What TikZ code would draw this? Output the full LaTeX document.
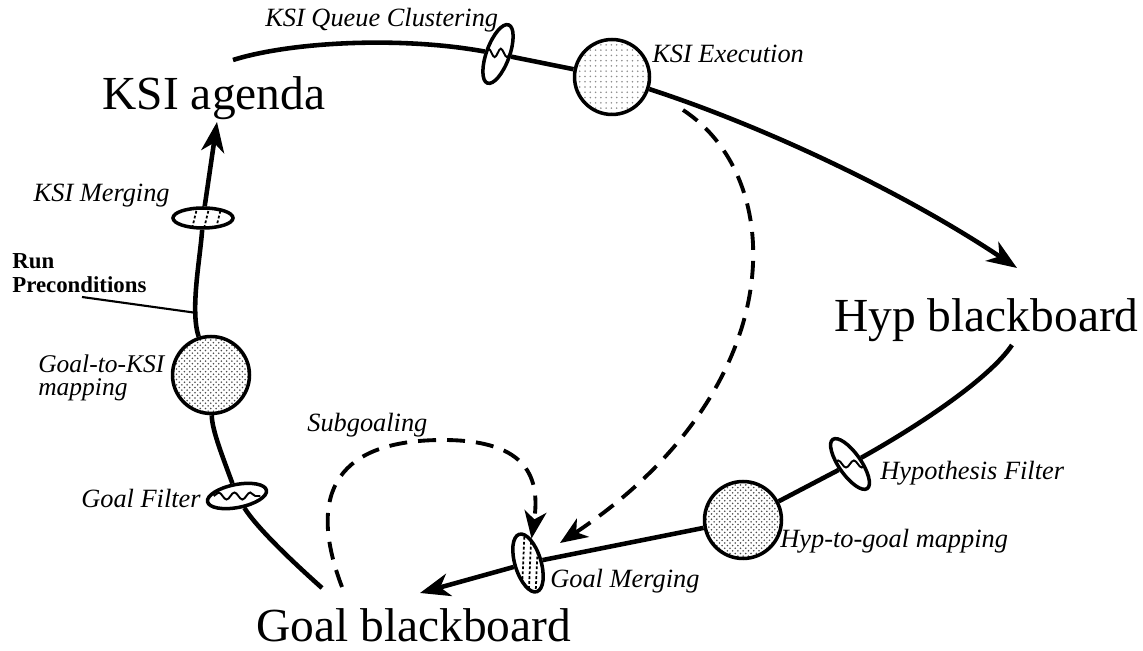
\documentclass[tikz,border=0pt]{standalone}
\usepackage{fontspec}
\setmainfont{Liberation Serif}
\usetikzlibrary{arrows.meta,shapes.geometric,decorations.pathmorphing,patterns,calc}

\tikzset{
  flow/.style={line width=2.6pt},
  flowarrow/.style={flow, -{Stealth[length=6mm,width=4.6mm,inset=1.8mm]}},
  dashflow/.style={line width=2.2pt, dash pattern=on 3.6mm off 2.2mm,
    -{Stealth[length=5.5mm,width=4.4mm,inset=1.6mm]}},
  bbtitle/.style={font=\fontsize{27}{30}\selectfont, inner sep=0pt},
  tag/.style={font=\fontsize{15}{15}\selectfont\itshape, inner sep=0pt},
  procdark/.style={circle, draw, line width=2pt, minimum size=1.54cm, inner sep=0pt,
    pattern=crosshatch dots, pattern color=black!70},
  proclight/.style={circle, draw, line width=2pt, minimum size=1.5cm, inner sep=0pt,
    pattern=dots, pattern color=black!45},
  valve/.style={ellipse, draw, fill=white, line width=2pt, inner sep=0pt,
    minimum width=1.2cm, minimum height=0.46cm},
  mergevalve/.style={valve, path picture={
    \foreach \t in {.32,.52,.72}
      \draw[line width=1pt, dash pattern=on 1.6pt off 1.2pt]
        ($(path picture bounding box.south west)!\t!(path picture bounding box.south east)$) --
        ($(path picture bounding box.north west)!\t+.08!(path picture bounding box.north east)$);
  }},
  filtervalve/.style={valve, path picture={
    \draw[line width=1.1pt, decorate, decoration={snake, amplitude=2pt, segment length=9pt}]
      ($(path picture bounding box.west)!.12!(path picture bounding box.east)$) --
      ($(path picture bounding box.west)!.88!(path picture bounding box.east)$);
  }},
}

\begin{document}
\begin{tikzpicture}[x=0.02cm, y=-0.02cm]
  \useasboundingbox (0,0) rectangle (1143,651);

  % blackboards and agenda
  \node[bbtitle, anchor=base] (agenda) at (214,110) {KSI agenda};
  \node[bbtitle, anchor=base west] (hypbb) at (834,332) {Hyp blackboard};
  \node[bbtitle, anchor=base west] (goalbb) at (256,642) {Goal blackboard};

  % processing steps on the loop
  \node[proclight] (exec) at (612,77) {};
  \node[procdark] (g2k) at (211,375) {};
  \node[procdark] (h2g) at (743,520) {};
  \node[valve, rotate=70, minimum width=1.24cm, path picture={
    \draw[line width=1.1pt, decorate, decoration={snake, amplitude=2.4pt, segment length=7pt}]
      ($(path picture bounding box.west)!.1!(path picture bounding box.east)$) --
      ($(path picture bounding box.west)!.9!(path picture bounding box.east)$);
  }] (qclust) at (498,54) {};
  \node[mergevalve, minimum height=0.4cm] (ksimerge) at (203,218) {};
  \node[filtervalve, rotate=11] (goalfilt) at (237,496) {};
  \node[filtervalve, rotate=125, minimum height=0.44cm] (hypfilt) at (850,464) {};
  \node[mergevalve, rotate=107, minimum height=0.52cm] (goalmerge) at (528,563) {};

  \coordinate (qstart) at (233,60);
  \coordinate (hyptip) at (1017,268);
  \coordinate (hypstart) at (1012,345);
  \coordinate (goaltip) at (420,593);
  \coordinate (leftend) at (322,588);
  \coordinate (agendatip) at (217,122);
  \coordinate (runtail) at (82,297);
  \coordinate (runpt) at (197,313);
  \coordinate (sgstart) at (342,587);
  \coordinate (dashstart) at (683,110);
  \coordinate (dashtip) at (560,543);

  % labels
  \node[tag, anchor=base west] (qclbl) at (265,27) {KSI Queue Clustering};
  \node[tag, anchor=base west] (execlbl) at (652,63) {KSI Execution};
  \node[tag, anchor=base east] (mergelbl) at (170,202) {KSI Merging};
  \node[font=\fontsize{13}{14}\selectfont\bfseries, align=left, anchor=north west,
    inner sep=0pt] (runlbl) at (12,253) {Run\\Preconditions};
  \node[tag, font=\fontsize{14.5}{13.5}\selectfont\itshape, align=left, anchor=north west]
    (g2klbl) at (38,354) {Goal-to-KSI\\mapping};
  \node[tag, anchor=base east] (gflbl) at (201,508) {Goal Filter};
  \node[tag, anchor=base west] (sglbl) at (307,432) {Subgoaling};
  \node[tag, anchor=base west] (gmlbl) at (550,588) {Goal Merging};
  \node[tag, anchor=base west] (h2glbl) at (780,548) {Hyp-to-goal mapping};
  \node[tag, anchor=base west] (hflbl) at (880,480) {Hypothesis Filter};

  % agenda -> execution -> hyp blackboard
  \draw[flow] (qstart) .. controls (290,42) and (400,36) .. (qclust);
  \draw[flow] (qclust) -- (exec);
  \draw[flowarrow] (exec) .. controls (760,125) and (900,190) .. (hyptip);

  % hyp blackboard -> goal blackboard
  \draw[flow] (hypstart) .. controls (990,378) and (920,425) .. (hypfilt);
  \draw[flow] (hypfilt) -- (h2g);
  \draw[flow] (h2g) -- (goalmerge);
  \draw[flowarrow] (goalmerge) -- (goaltip);

  % goal blackboard -> agenda
  \draw[flow] (leftend) .. controls (285,555) and (255,525) .. (goalfilt);
  \draw[flow] (goalfilt) .. controls (222,455) and (212,430) .. (g2k);
  \draw[flow] (g2k) .. controls (190,310) and (200,260) .. (ksimerge);
  \draw[flowarrow] (ksimerge) -- (agendatip);
  \draw[line width=1.2pt] (runtail) -- (runpt);

  % subgoals and new goals from execution
  \draw[dashflow] (sgstart) .. controls (305,490) and (340,440) .. (443,440)
    .. controls (530,440) and (540,480) .. (goalmerge);
  \draw[dashflow] (dashstart) .. controls (790,180) and (790,390) .. (dashtip);
\end{tikzpicture}
\end{document}
